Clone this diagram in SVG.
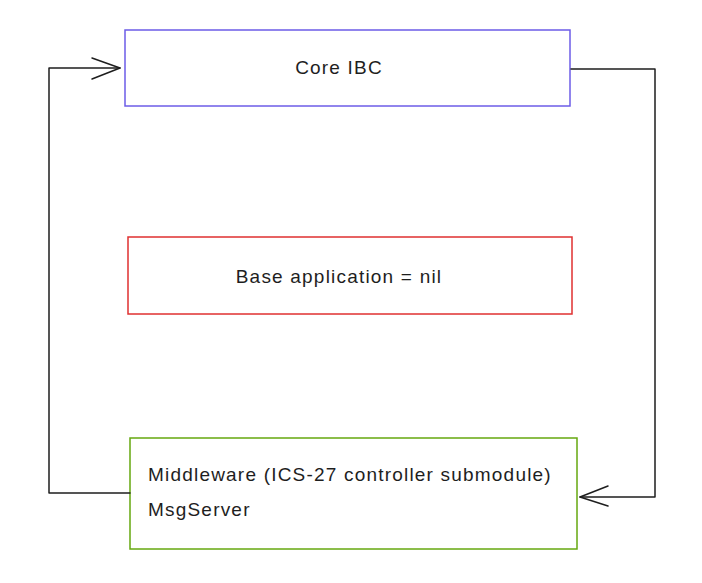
<svg xmlns="http://www.w3.org/2000/svg" width="702" height="583" viewBox="0 0 702 583">
<style>
.box{fill:#ffffff;stroke-width:1.5}
.lbl{font-family:"Liberation Sans","Noto Sans",sans-serif;font-size:19px;letter-spacing:1.2px;fill:#1e1e1e}
.conn{fill:none;stroke:#1e1e1e;stroke-width:1.5;stroke-linejoin:round;stroke-linecap:round}
</style>
<rect width="702" height="583" fill="#ffffff"/>
<g id="core-ibc">
<rect class="box" x="125" y="30" width="445" height="76" stroke="#6c5ce7"/>
<text class="lbl" x="339" y="74" text-anchor="middle">Core IBC</text>
</g>
<g id="base-app">
<rect class="box" x="128" y="237" width="444" height="77" stroke="#e03131"/>
<text class="lbl" x="339" y="283" text-anchor="middle">Base application = nil</text>
</g>
<g id="middleware">
<rect class="box" x="130" y="438" width="447" height="111" stroke="#66a80f"/>
<text class="lbl" x="148" y="481">Middleware (ICS-27 controller submodule)</text>
<text class="lbl" x="148" y="516">MsgServer</text>
</g>
<g id="connectors">
<path class="conn" d="M130 493 H49 V68 H120"/>
<path class="conn" d="M92 58 L120 68 L92 79"/>
<path class="conn" d="M571 69 H655 V497 H580"/>
<path class="conn" d="M608 486 L580 497 L608 506"/>
</g>
</svg>
